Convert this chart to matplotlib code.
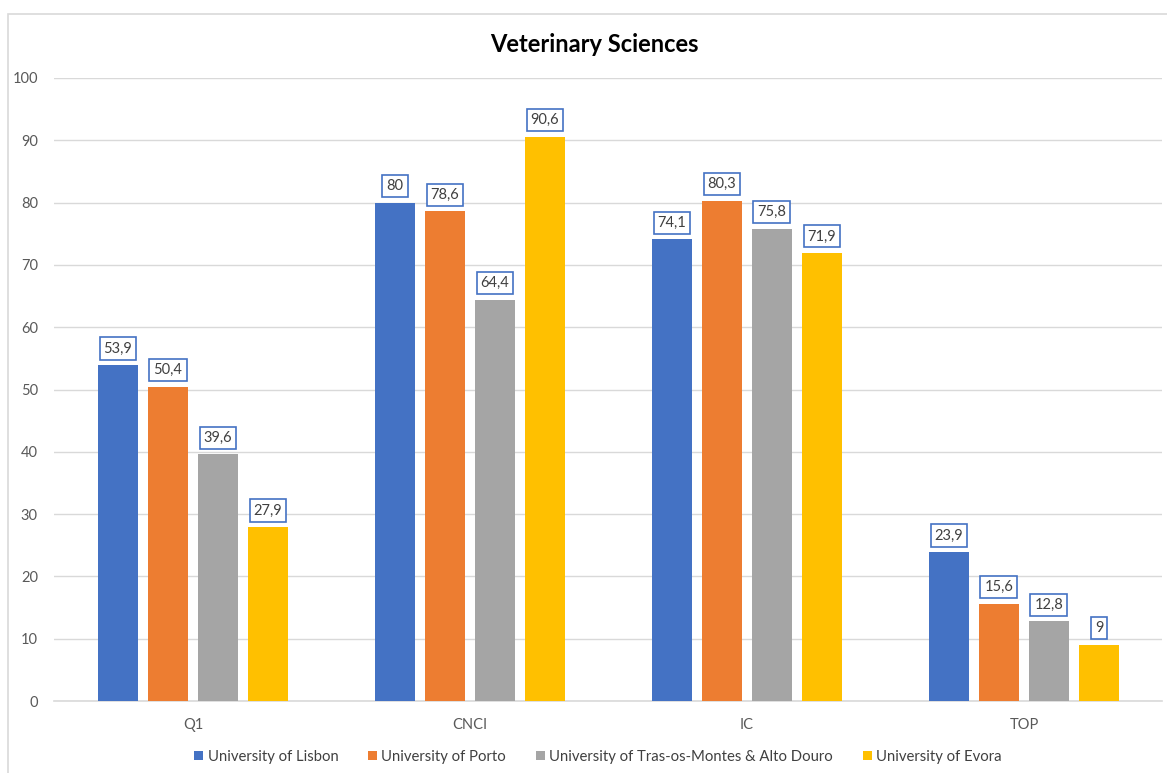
import matplotlib.pyplot as plt
import numpy as np
from matplotlib.patches import Rectangle

plt.rcParams['font.family'] = ['Lato', 'DejaVu Sans']

# data
categories = ['Q1', 'CNCI', 'IC', 'TOP']
universities = ['University of Lisbon', 'University of Porto',
                'University of Tras-os-Montes & Alto Douro', 'University of Evora']
lisbon = [53.9, 80, 74.1, 23.9]
porto = [50.4, 78.6, 80.3, 15.6]
utad = [39.6, 64.4, 75.8, 12.8]
evora = [27.9, 90.6, 71.9, 9]
colors = ['#4472C4', '#ED7D31', '#A5A5A5', '#FFC000']

series = [lisbon, porto, utad, evora]

fig = plt.figure(figsize=(11.67, 7.73), dpi=100)
ax = fig.add_axes([0.0467, 0.0931, 0.9494, 0.806])

# chart border like the excel frame
fig.patches.append(Rectangle((8 / 1167, -0.01), 1.1, (773 - 14) / 773 + 0.01,
                             transform=fig.transFigure, fill=False,
                             edgecolor='#D9D9D9', linewidth=1.2))

x = np.arange(len(categories))
bw = 40 / 277
step = 50 / 277
for i, (vals, col, name) in enumerate(zip(series, colors, universities)):
    pos = x + (i - 1.5) * step
    ax.bar(pos, vals, width=bw, color=col, label=name, zorder=3)
    for px, v in zip(pos, vals):
        txt = f'{v:g}'.replace('.', ',')
        ax.annotate(txt, (px, v), xytext=(0, 12), textcoords='offset points',
                    ha='center', va='center', fontsize=10.5, color='#404040',
                    bbox=dict(boxstyle='square,pad=0.28', fc='white',
                              ec='#4472C4', lw=1.2), zorder=4)

ax.set_xlim(-0.5, 3.5)
ax.set_ylim(0, 100)
ax.set_yticks(np.arange(0, 101, 10))
ax.set_xticks(x)
ax.set_xticklabels(categories)
ax.grid(axis='y', color='#D9D9D9', linewidth=1, zorder=0)
for s in ['top', 'right', 'left']:
    ax.spines[s].set_visible(False)
ax.spines['bottom'].set_color('#D9D9D9')
ax.spines['bottom'].set_linewidth(1.2)
ax.tick_params(axis='both', length=0, labelsize=10.5, colors='#595959')
ax.tick_params(axis='x', pad=12)
ax.tick_params(axis='y', pad=12)

fig.text(594 / 1167, 1 - 45 / 773, 'Veterinary Sciences', fontsize=17,
         fontweight='bold', color='black', ha='center', va='center')

fig.legend(loc='center', bbox_to_anchor=(598 / 1167, 1 - 757 / 773), ncol=4,
           frameon=False, fontsize=10.7, handlelength=0.6, handleheight=0.6,
           handletextpad=0.3, columnspacing=2.0, labelcolor='#404040')

plt.savefig('out.png', dpi=100)
